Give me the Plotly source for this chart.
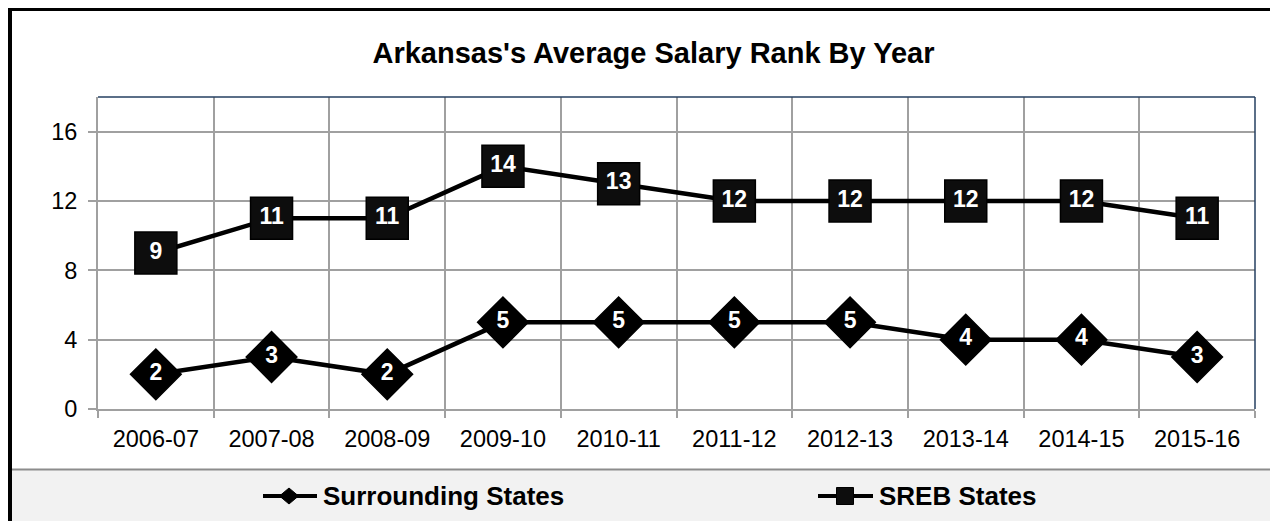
import plotly.graph_objects as go

categories = ["2006-07", "2007-08", "2008-09", "2009-10", "2010-11",
              "2011-12", "2012-13", "2013-14", "2014-15", "2015-16"]
surrounding = [2, 3, 2, 5, 5, 5, 5, 4, 4, 3]
sreb = [9, 11, 11, 14, 13, 12, 12, 12, 12, 11]
y_ticks = [0, 4, 8, 12, 16]
series_names = ["Surrounding States", "SREB States"]

W, H = 1270, 521
L, R, T, B = 98, 15, 97, 112
FONT = "Arial, Liberation Sans, sans-serif"


def px_x(p):
    return (p - L) / (W - L - R)


def px_y(p):
    return (H - B - p) / (H - T - B)


fig = go.Figure()
fig.add_trace(go.Scatter(
    x=categories, y=surrounding, name=series_names[0],
    mode="lines+markers+text", text=[str(v) for v in surrounding],
    textposition="middle center",
    textfont=dict(family=FONT, size=23, color="white", weight="bold"),
    line=dict(color="black", width=4.5),
    marker=dict(symbol="diamond", size=39, color="black", line=dict(color="black", width=1.5)),
    showlegend=False, cliponaxis=False,
))
fig.add_trace(go.Scatter(
    x=categories, y=sreb, name=series_names[1],
    mode="lines+markers+text", text=[str(v) for v in sreb],
    textposition="middle center",
    textfont=dict(family=FONT, size=23, color="white", weight="bold"),
    line=dict(color="black", width=4.5),
    marker=dict(symbol="square", size=42, color="#0D0D0D", line=dict(color="black", width=1.5)),
    showlegend=False, cliponaxis=False,
))

shapes = [
    # legend band
    dict(type="rect", xref="paper", yref="paper",
         x0=px_x(12), x1=px_x(W + 5), y0=px_y(H + 5), y1=px_y(469.5),
         fillcolor="#F2F2F2", line=dict(width=0), layer="below"),
    dict(type="line", xref="paper", yref="paper",
         x0=px_x(12), x1=px_x(W + 5), y0=px_y(469.5), y1=px_y(469.5),
         line=dict(color="#8C8C8C", width=2)),
    # outer black border (top and left)
    dict(type="line", xref="paper", yref="paper",
         x0=px_x(8), x1=px_x(W + 5), y0=px_y(9.5), y1=px_y(9.5),
         line=dict(color="black", width=3)),
    dict(type="line", xref="paper", yref="paper",
         x0=px_x(10), x1=px_x(10), y0=px_y(8), y1=px_y(H + 5),
         line=dict(color="black", width=4)),
    # top and right plot border (dark navy)
    dict(type="line", xref="paper", yref="paper",
         x0=0, x1=1, y0=1, y1=1, line=dict(color="#243F60", width=1.5)),
    dict(type="line", xref="paper", yref="paper",
         x0=1, x1=1, y0=0, y1=1, line=dict(color="#243F60", width=1.5)),
]

# manual legend: line + marker symbol + label
legend_items = [
    dict(x0=263, x1=317, cx=289, symbol="diamond", text_x=321),
    dict(x0=818, x1=873, cx=845, symbol="square", text_x=877),
]
ly = 496
annotations = []
for name, it in zip(series_names, legend_items):
    shapes.append(dict(type="line", xref="paper", yref="paper",
                       x0=px_x(it["x0"]), x1=px_x(it["x1"]),
                       y0=px_y(ly), y1=px_y(ly),
                       line=dict(color="black", width=4)))
    cx = it["cx"]
    if it["symbol"] == "diamond":
        hw, hh = 9.5, 8
        path = (f"M {px_x(cx - hw)} {px_y(ly)} L {px_x(cx)} {px_y(ly - hh)} "
                f"L {px_x(cx + hw)} {px_y(ly)} L {px_x(cx)} {px_y(ly + hh)} Z")
        shapes.append(dict(type="path", xref="paper", yref="paper", path=path,
                           fillcolor="black", line=dict(color="black", width=1)))
    else:
        s = 8.5
        shapes.append(dict(type="rect", xref="paper", yref="paper",
                           x0=px_x(cx - s), x1=px_x(cx + s),
                           y0=px_y(ly + s), y1=px_y(ly - s),
                           fillcolor="#0D0D0D", line=dict(color="black", width=1)))
    annotations.append(dict(xref="paper", yref="paper", x=px_x(it["text_x"]),
                            y=px_y(ly), xanchor="left", yanchor="middle",
                            showarrow=False, text=f"<b>{name}</b>",
                            font=dict(family=FONT, size=26, color="black")))

fig.update_layout(
    width=W, height=H,
    margin=dict(l=L, r=R, t=T, b=B),
    paper_bgcolor="white", plot_bgcolor="white",
    font=dict(family=FONT, color="black"),
    title=dict(text="<b>Arkansas's Average Salary Rank By Year</b>",
               x=653.5 / W, xanchor="center", y=1 - 53 / H, yanchor="middle",
               font=dict(family=FONT, size=29, color="black")),
    xaxis=dict(type="category", tickson="boundaries", showgrid=True,
               gridcolor="#A0A0A0", gridwidth=2,
               ticks="outside", ticklen=7, tickcolor="#A0A0A0", tickwidth=2,
               showline=True, linecolor="#A0A0A0", linewidth=2,
               tickfont=dict(family=FONT, size=23.5, color="black"),
               ticklabelstandoff=8,
               range=[-0.5, 9.5], fixedrange=True),
    yaxis=dict(range=[0, 18], tickvals=y_ticks, showgrid=True,
               gridcolor="#A0A0A0", gridwidth=2, zeroline=False,
               ticks="outside", ticklen=8, tickcolor="#A0A0A0", tickwidth=2,
               showline=True, linecolor="#A0A0A0", linewidth=2,
               tickfont=dict(family=FONT, size=23.5, color="black"),
               ticklabelstandoff=6, fixedrange=True),
    shapes=shapes,
    annotations=annotations,
    showlegend=False,
)

fig.write_html("out.html", config={"displayModeBar": False},
               post_script="document.body.style.margin='0';document.body.style.overflow='hidden';")
